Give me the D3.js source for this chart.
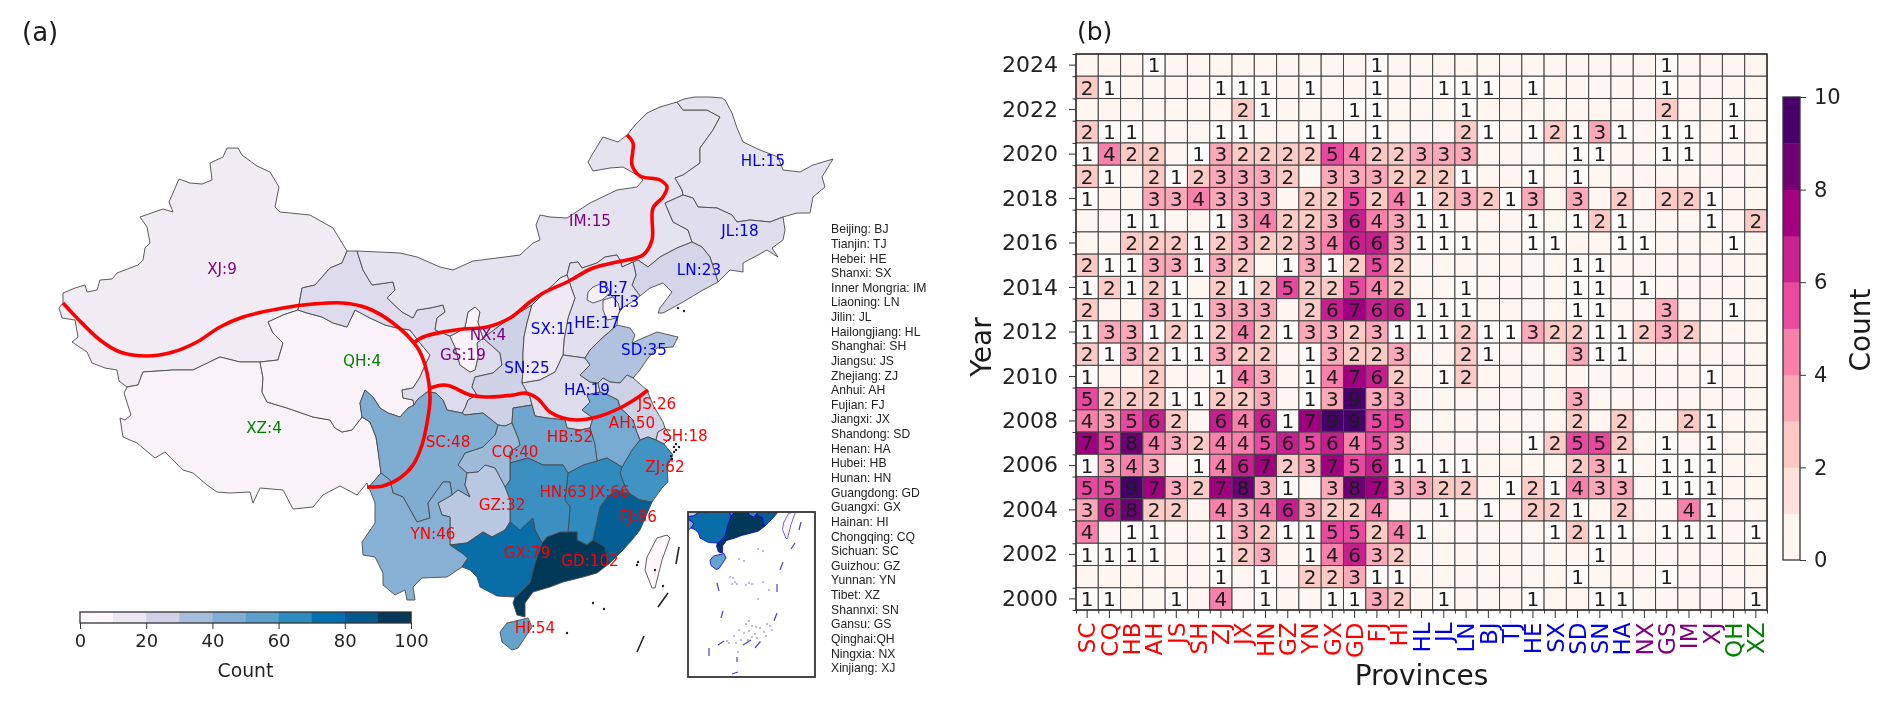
<!DOCTYPE html>
<html>
<head>
<meta charset="utf-8">
<script src="https://cdn.jsdelivr.net/npm/d3@7"></script>
<style>
html, body { margin: 0; padding: 0; background: #fff; }
svg { display: block; font-family: "DejaVu Sans", sans-serif; filter: blur(0.45px); }
.axis path, .axis line { stroke: #333; }
.axis text { fill: #222; }
</style>
</head>
<body>
<svg width="1892" height="707"></svg>
<script>
var provinces = ["SC","CQ","HB","AH","JS","SH","ZJ","JX","HN","GZ","YN","GX","GD","FJ","HI","HL","JL","LN","BJ","TJ","HE","SX","SD","SN","HA","NX","GS","IM","XJ","QH","XZ"];
var provinceCounts = [48,40,52,50,26,18,62,66,63,32,46,79,102,86,54,15,18,23,7,3,17,11,35,25,19,4,19,15,9,4,4];
var regionSizes = [15,10,4,2];
var regionColors = ["#ff0000","#0000e6","#800080","#008000"];

var years = [2024,2023,2022,2021,2020,2019,2018,2017,2016,2015,2014,2013,2012,2011,2010,2009,2008,2007,2006,2005,2004,2003,2002,2001,2000];
var yearTicks = [2024,2022,2020,2018,2016,2014,2012,2010,2008,2006,2004,2002,2000];
var yearCounts = [
	[0,0,0,1,0,0,0,0,0,0,0,0,0,1,0,0,0,0,0,0,0,0,0,0,0,0,1,0,0,0,0],
	[2,1,0,0,0,0,1,1,1,0,1,0,0,1,0,0,1,1,1,0,1,0,0,0,0,0,1,0,0,0,0],
	[0,0,0,0,0,0,0,2,1,0,0,0,1,1,0,0,0,1,0,0,0,0,0,0,0,0,2,0,0,1,0],
	[2,1,1,0,0,0,1,1,0,0,1,1,0,1,0,0,0,2,1,0,1,2,1,3,1,0,1,1,0,1,0],
	[1,4,2,2,0,1,3,2,2,2,2,5,4,2,2,3,3,3,0,0,0,0,1,1,0,0,1,1,0,0,0],
	[2,1,0,2,1,2,3,3,3,2,0,3,3,3,2,2,2,1,0,0,1,0,1,0,0,0,0,0,0,0,0],
	[1,0,0,3,3,4,3,3,3,0,2,2,5,2,4,1,2,3,2,1,3,0,3,0,2,0,2,2,1,0,0],
	[0,0,1,1,0,0,1,3,4,2,2,3,6,4,3,1,1,0,0,0,1,0,1,2,1,0,0,0,1,0,2],
	[0,0,2,2,2,1,2,3,2,2,3,4,6,6,3,1,1,1,0,0,1,1,0,0,1,1,0,0,0,1,0],
	[2,1,1,3,3,1,3,2,0,1,3,1,2,5,2,0,0,0,0,0,0,0,1,1,0,0,0,0,0,0,0],
	[1,2,1,2,1,0,2,1,2,5,2,2,5,4,2,0,0,1,0,0,0,0,1,1,0,1,0,0,0,0,0],
	[2,0,0,3,1,1,3,3,3,0,2,6,7,6,6,1,1,1,0,0,0,0,1,1,0,0,3,0,0,1,0],
	[1,3,3,1,2,1,2,4,2,1,3,3,2,3,1,1,1,2,1,1,3,2,2,1,1,2,3,2,0,0,0],
	[2,1,3,2,1,1,3,2,2,0,1,3,2,2,3,0,0,2,1,0,0,0,3,1,1,0,0,0,0,0,0],
	[1,0,0,2,0,0,1,4,3,0,1,4,7,6,2,0,1,2,0,0,0,0,0,0,0,0,0,0,1,0,0],
	[5,2,2,2,1,1,2,2,3,0,1,3,9,3,3,0,0,0,0,0,0,0,3,0,0,0,0,0,0,0,0],
	[4,3,5,6,2,0,6,4,6,1,7,9,9,5,5,0,0,0,0,0,0,0,2,0,2,0,0,2,1,0,0],
	[7,5,8,4,3,2,4,4,5,6,5,6,4,5,3,0,0,0,0,0,1,2,5,5,2,0,1,0,1,0,0],
	[1,3,4,3,0,1,4,6,7,2,3,7,5,6,1,1,1,1,0,0,0,0,2,3,1,0,1,1,1,0,0],
	[5,5,9,7,3,2,7,8,3,1,0,3,8,7,3,3,2,2,0,1,2,1,4,3,3,0,1,1,1,0,0],
	[3,6,8,2,2,0,4,3,4,6,3,2,2,4,0,0,1,0,1,0,2,2,1,0,2,0,0,4,1,0,0],
	[4,0,1,1,0,0,1,3,2,1,1,5,5,2,4,1,0,0,0,0,0,1,2,1,1,0,1,1,1,0,1],
	[1,1,1,1,0,0,1,2,3,0,1,4,6,3,2,0,0,0,0,0,0,0,0,1,0,0,0,0,0,0,0],
	[0,0,0,0,0,0,1,0,1,0,2,2,3,1,1,0,0,0,0,0,0,0,1,0,0,0,1,0,0,0,0],
	[1,1,0,0,1,0,4,0,1,0,0,1,1,3,2,0,1,0,0,0,1,0,0,1,1,0,0,0,0,0,1]
];

// colours by count, the cells with a 1 come out paler than the colorbar says
var cellColors = ["#fff6f2","#fffbfa","#fccbc6","#fba8b8","#f880ab","#e8489f","#c61f8e","#a0007f","#6e0076","#45006a"];
var heatBarColors = ["#fff5f0","#fee1dd","#fcc8c3","#faa7b6","#f880ab","#ec4a9e","#cc2290","#a3007f","#720075","#49006a"];
var mapBarColors = ["#fff7fb","#ece7f2","#d0d1e6","#a6bddb","#83add4","#5b9fcb","#2b8cbe","#0570b0","#045a8d","#023858"];

var glossary = ["Beijing: BJ","Tianjin: TJ","Hebei: HE","Shanxi: SX","Inner Mongria: IM","Liaoning: LN","Jilin: JL","Hailongjiang: HL","Shanghai: SH","Jiangsu: JS","Zhejiang: ZJ","Anhui: AH","Fujian: FJ","Jiangxi: JX","Shandong: SD","Henan: HA","Hubei: HB","Hunan: HN","Guangdong: GD","Guangxi: GX","Hainan: HI","Chongqing: CQ","Sichuan: SC","Guizhou: GZ","Yunnan: YN","Tibet: XZ","Shannxi: SN","Gansu: GS","Qinghai:QH","Ningxia: NX","Xinjiang: XJ"];

var arcs = {
	xj_outer:"127,387 119,381 117,370 105,368 92,363 87,352 78,346 72,342 78,337 75,320 62,318 59,308 63,303 63,293 75,288 85,285 87,292 97,290 100,280 112,279 117,273 138,265 143,260 145,248 150,243 147,227 140,217 163,209 173,212 169,202 179,179 190,183 202,184 212,180 210,163 223,157 227,148 238,148 242,155 257,166 270,172 279,187 275,207 280,212 310,215 333,228 347,251",
	xj_gs:"347,251 342,263 330,268 315,285 302,288 298,310",
	xj_qh:"298,310 283,315 268,322 273,333 283,343 278,360 260,362",
	xj_xz:"260,362 240,362 220,357 193,370 173,370 143,372 138,385 127,387",
	xz_outer:"127,387 124,393 131,415 125,420 120,418 123,437 137,443 155,458 165,452 183,470 193,473 207,485 217,492 230,493 250,492 253,503 260,488 283,490 293,509 313,507 323,495 340,486 357,495 367,483 368,488",
	xz_yn:"368,488 375,480 381,473",
	xz_sc:"381,473 378,450 376,437 370,422 362,417",
	xz_qh:"362,417 352,430 342,432 335,428 330,420 313,417 287,408 267,402 262,392 263,378 260,362",
	gs_qh:"298,310 307,313 322,317 333,323 347,327 355,310 370,318 385,325 397,328 410,330 420,343 430,355 423,370 420,377 413,388 402,390 403,398 413,400 414,405",
	qh_sc:"362,417 360,403 365,390 373,397 380,408 388,413 400,417 408,408 414,405",
	gs_outer:"347,251 357,251",
	gs_im:"357,251 363,270 372,285 393,282 395,290 387,298 402,312 413,318 417,310 430,308 443,305 445,312 437,318 435,330 450,336",
	gs_nx:"450,336 455,347 460,365 470,372 475,370 478,357 477,343 483,338",
	gs_sn:"483,338 500,353 502,365 493,373 475,377 472,387 477,395 468,400 465,408 462,413",
	gs_sc:"462,413 447,410 443,400 436,393 427,392 417,400 414,405",
	nx_im:"450,336 458,332 465,327 468,312 475,307 480,312 478,322 483,338",
	sn_im:"483,338 487,335 503,323 520,312 532,305",
	sx_sn:"532,305 527,323 524,337 523,353 523,370 522,383",
	ha_sn:"522,383 530,397 532,405",
	hb_sn:"532,405 513,408 512,423",
	cq_sn:"512,423 505,426 498,425",
	sc_sn:"498,425 483,413 465,415 462,413",
	im_outer:"357,251 400,253 417,257 440,267 453,270 473,261 505,257 520,255 533,243 540,240 536,225 540,215 550,217 567,218 590,203 617,190 637,187 643,180 637,175 623,167 610,168 593,171 588,162 593,153 603,137 618,142 627,135 635,125 647,113 660,107 677,102",
	im_hl:"677,102 683,110 707,110 720,117 713,130 700,148 700,163 683,175 675,178 682,190 683,195",
	im_jl:"683,195 665,203 673,222 688,230 692,242",
	im_ln:"692,242 677,248 660,257 648,267 638,260 633,262",
	he_im:"633,262 622,267 620,260 617,255 605,257 597,263 582,268 578,262 570,263 567,275",
	sx_im:"567,275 560,278 553,285 545,292 540,297 532,305",
	hl_outer:"677,102 684,99 695,97 710,97 722,98 725,100 732,113 737,128 743,142 760,150 778,157 783,170 800,172 813,165 833,159 822,177 825,187 813,197 810,213 797,213 783,217",
	hl_jl:"783,217 770,222 750,220 737,222 732,215 717,208 698,207 693,198 683,195",
	jl_outer:"783,217 785,230 783,240 772,248 778,257 767,250 758,255 743,263 743,272 730,270 718,282",
	jl_ln:"718,282 710,257 702,247 692,242",
	ln_coast:"718,282 703,290 683,302 663,313 658,313 660,308 672,292 663,283 650,288 640,296",
	ln_he:"640,296 632,285 636,275 633,262",
	sx_he:"567,275 572,290 575,298 568,318 564,340 563,355",
	ha_he:"563,355 585,358",
	he_sd:"585,358 590,350 600,340 608,333 617,325",
	he_coast:"617,325 618,315 622,308 632,302 640,296",
	sx_ha:"522,383 540,380 555,372 563,355",
	ha_sd:"585,358 590,365 580,375 590,382 598,383",
	ha_js:"598,383 600,392",
	ha_ah:"600,392 587,395 590,402 582,410 593,418 590,428",
	ah_js:"600,392 608,395 618,400 620,408 627,414 633,420 636,430 640,440",
	ha_hb:"590,428 580,430 567,428 565,420 547,418 535,416 532,405",
	sd_coast:"617,325 630,328 635,335 632,343 650,335 657,332 678,337 673,347 657,348 648,358 640,370 633,378",
	sd_js:"633,378 627,375 620,383 610,382 603,378 598,383",
	js_coast:"633,378 647,390 653,405 663,422 665,428",
	js_sh:"665,428 658,432 656,440",
	js_zj:"656,440 648,437 640,440",
	sh_coast:"665,428 671,437 664,444",
	sh_zj:"664,444 656,440",
	zj_coast:"664,444 673,455 667,467 668,482 662,488 652,502",
	zj_fj:"652,502 640,500 630,494",
	zj_jx:"630,494 625,487 620,473 622,467",
	ah_zj:"622,467 632,450 640,440",
	ah_jx:"622,467 607,458 597,461",
	ah_hb:"597,461 595,445 590,428",
	fj_coast:"652,502 640,530 632,540 623,550 610,563",
	fj_gd:"610,563 607,558 605,547 593,540",
	fj_jx:"593,540 600,507 607,497 617,490 630,494",
	jx_hb:"568,473 583,465 597,461",
	jx_gd:"593,540 587,545 577,540 577,532 568,532",
	jx_hn:"568,532 570,507 565,500 568,473",
	gd_coast:"610,563 597,573 583,577 563,582 550,587 533,592 525,603 525,617 517,615 513,603 515,597",
	gd_gx:"515,597 518,595 530,583 535,563 542,543",
	gd_hn:"542,543 547,537 560,532 568,532",
	hb_cq:"512,423 518,438 520,445 510,452 510,463",
	hb_hn:"510,463 528,458 543,465 563,465 568,473",
	cq_hn:"510,463 510,480 505,487",
	gz_hn:"505,487 510,500 510,522",
	gx_hn:"510,522 520,530 533,518 535,530 542,543",
	sc_cq:"498,425 495,435 483,447 465,453 458,465 467,473",
	cq_gz:"467,473 478,472 485,465 495,468 505,487",
	sc_gz:"467,473 465,485 470,497 458,490 452,495",
	sc_yn:"452,495 450,482 443,482 428,503 430,518 417,522 403,497 393,493 390,480 381,473",
	yn_gz:"452,495 438,503 442,515 450,517 450,545",
	gx_gz:"450,545 467,543 483,532 492,537 505,530 510,522",
	yn_gx:"450,545 462,553 468,558 462,567",
	yn_outer:"462,567 447,577 422,578 413,587 415,600 407,600 405,590 395,595 383,585 383,573 375,557 363,555 362,542 375,523 375,503 370,490 368,488",
	gx_coast:"515,597 497,596 480,587 477,577 470,570 462,567",
	hi_ring:"507,623 528,618 532,627 518,648 512,650 502,642 500,632 507,623",
	tw_ring:"667,535 670,538 662,560 655,588 652,588 645,570 647,557 657,538 667,535",
	bj_ring:"593,287 605,282 610,293 602,300 593,303 587,300 588,292 593,287",
	tj_ring:"603,300 613,297 618,303 620,310 617,318 607,320 603,310 603,300"
};

var rings = {
	XJ:["xj_outer","xj_gs","xj_qh","xj_xz"],
	XZ:["xz_outer","xz_yn","xz_sc","xz_qh","xj_xz"],
	QH:["gs_qh","-qh_sc","xz_qh","-xj_qh"],
	GS:["gs_outer","gs_im","gs_nx","gs_sn","gs_sc","-gs_qh","-xj_gs"],
	NX:["nx_im","-gs_nx"],
	SN:["sn_im","sx_sn","ha_sn","hb_sn","cq_sn","sc_sn","-gs_sn"],
	IM:["im_outer","im_hl","im_jl","im_ln","he_im","sx_im","-sn_im","-nx_im","-gs_im"],
	HL:["hl_outer","hl_jl","-im_hl"],
	JL:["jl_outer","jl_ln","-im_jl","-hl_jl"],
	LN:["ln_coast","ln_he","-im_ln","-jl_ln"],
	HE:["he_im","sx_he","ha_he","he_sd","he_coast","ln_he"],
	BJ:["bj_ring"],
	TJ:["tj_ring"],
	SX:["sx_im","sx_sn","sx_ha","-sx_he"],
	HA:["ha_he","ha_sd","ha_js","ha_ah","ha_hb","-ha_sn","sx_ha"],
	SD:["sd_coast","sd_js","-ha_sd","he_sd"],
	JS:["js_coast","js_sh","js_zj","-ah_js","-ha_js","-sd_js"],
	SH:["sh_coast","sh_zj","-js_sh"],
	ZJ:["zj_coast","zj_fj","zj_jx","ah_zj","-js_zj","-sh_zj"],
	AH:["ah_js","-ah_zj","ah_jx","ah_hb","-ha_ah"],
	FJ:["fj_coast","fj_gd","fj_jx","-zj_fj"],
	JX:["jx_hb","-ah_jx","-zj_jx","-fj_jx","jx_gd","jx_hn"],
	GD:["gd_coast","gd_gx","gd_hn","-jx_gd","-fj_gd"],
	HB:["ha_hb","hb_sn","hb_cq","hb_hn","jx_hb","ah_hb"],
	HN:["-hb_hn","cq_hn","gz_hn","gx_hn","gd_hn","jx_hn"],
	CQ:["cq_sn","sc_cq","cq_gz","-cq_hn","-hb_cq"],
	SC:["-gs_sc","-sc_sn","sc_cq","sc_gz","sc_yn","xz_sc","qh_sc"],
	GZ:["cq_gz","gz_hn","-gx_gz","-yn_gz","-sc_gz"],
	YN:["yn_gz","yn_gx","yn_outer","xz_yn","-sc_yn"],
	GX:["gx_gz","gx_hn","-gd_gx","gx_coast","-yn_gx"],
	HI:["hi_ring"]
};

// label spots, same order as provinces
var labelSpots = [[448,442],[515,452],[570,437],[632,423],[657,404],[685,436],[665,467],[610,492],[563,492],[502,505],[433,534],[527,553],[590,561],[638,517],[535,628],[763,161],[740,231],[699,270],[613,288],[625,302],[597,323],[553,329],[644,350],[527,368],[587,390],[488,335],[463,355],[590,221],[222,269],[362,361],[264,428]];

var dividerMain = "63,303 77,318 100,340 120,352 147,356 173,352 197,342 220,327 243,317 283,308 313,304 343,303 367,308 393,323 417,347 425,365 430,397 428,417 422,445 413,465 400,478 383,486 367,487";
var dividerNorth = "627,135 633,143 632,165 640,176 660,180 667,187 663,197 653,208 652,240 643,255 617,262 593,268 567,282 545,292 530,302 510,318 487,327 463,329 443,332 423,337 415,342";
var dividerSouth = "648,390 637,398 620,408 597,417 577,420 563,418 550,412 537,398 525,393 513,395 487,397 470,395 450,386 443,385 430,388";

var seaDashes = ["679,547 676,564","668,593 658,607","644,636 637,652"];
var coastIslands = ["593,603","604,609","567,633","638,562","637,565","676,444","679,447","671,456","672,459","674,447","674,452","676,450","678,308","684,311","655,570","663,586"];
var insetDashes = ["717,583 719,591","723,611 721,618","709,648 709,656","732,674 738,672","737,657 737,662","755,648 760,642","774,621 777,613","777,584 777,592","780,570 783,562","791,549 795,543","799,530 801,522","718,645 724,641","743,645 751,640"];
var insetIslands = ["730,577","733,578","735,582","732,584","737,584","746,585","749,583","752,584","763,582","769,590","758,599","758,549","763,551","739,559","744,561","749,621","746,624","752,626","756,627","749,631","744,633","755,634","760,628","764,632","767,624","770,626","772,630","757,638","752,637","748,640","741,640","736,643","734,636","729,643","727,641","739,630","760,642","766,636","738,652"];

var svg = d3.select("svg");

var pts = function(s) {
	return s.split(" ").map(function(p) { return p.split(",").map(Number); });
};

var ringOf = function(parts) {
	var ring = [];
	parts.forEach(function(name) {
		var rev = name.charAt(0) == "-";
		var line = pts(arcs[rev ? name.slice(1) : name]);
		if(rev) line.reverse();
		ring = ring.concat(ring.length ? line.slice(1) : line);
	});
	return ring;
};

var regionOf = function(i) {
	var sum = 0;
	for(var r = 0; r < regionSizes.length; r++) {
		sum += regionSizes[r];
		if(i < sum) return r;
	}
};

var countByProvince = {};
provinces.forEach(function(p, i) { countByProvince[p] = provinceCounts[i]; });

var mapColor = d3.scaleSequential(d3.interpolatePuBu).domain([0, 102]);

var features = Object.keys(rings).map(function(name) {
	return {type: "Feature", id: name, geometry: {type: "Polygon", coordinates: [ringOf(rings[name])]}};
});
var taiwan = {type: "Polygon", coordinates: [pts(arcs.tw_ring)]};

var mapPath = d3.geoPath(d3.geoIdentity());
var insetPath = d3.geoPath(d3.geoIdentity().scale(0.5).translate([460, 244.5]));
var flatPath = d3.geoPath(d3.geoIdentity());

// panel a
var mapLayer = svg.append("g");
mapLayer.selectAll("path.prov")
	.data(features)
	.enter().append("path")
	.attr("class", "prov")
	.attr("d", mapPath)
	.attr("fill", function(d) { return mapColor(countByProvince[d.id]); })
	.attr("stroke", "#4a4a4a")
	.attr("stroke-width", 0.9)
	.attr("stroke-linejoin", "round");
mapLayer.append("path")
	.attr("d", mapPath(taiwan))
	.attr("fill", "#fff7fb")
	.attr("stroke", "#4a4a4a")
	.attr("stroke-width", 0.9);
mapLayer.append("path")
	.attr("d", mapPath({type: "MultiLineString", coordinates: seaDashes.map(pts)}))
	.attr("fill", "none")
	.attr("stroke", "#222")
	.attr("stroke-width", 1.6);
mapLayer.selectAll("circle")
	.data(coastIslands.map(pts))
	.enter().append("circle")
	.attr("cx", function(d) { return d[0][0]; })
	.attr("cy", function(d) { return d[0][1]; })
	.attr("r", 1.2)
	.attr("fill", "#222");

var dividerLine = d3.line().curve(d3.curveCatmullRom);
svg.append("g").selectAll("path")
	.data([dividerMain, dividerNorth, dividerSouth])
	.enter().append("path")
	.attr("d", function(d) { return dividerLine(pts(d)); })
	.attr("fill", "none")
	.attr("stroke", "#ff0000")
	.attr("stroke-width", 3.6);

svg.append("g").selectAll("text")
	.data(provinces)
	.enter().append("text")
	.attr("x", function(d, i) { return labelSpots[i][0]; })
	.attr("y", function(d, i) { return labelSpots[i][1]; })
	.attr("dy", "0.36em")
	.attr("text-anchor", "middle")
	.attr("font-size", 15.2)
	.attr("fill", function(d, i) { return regionColors[regionOf(i)]; })
	.text(function(d, i) { return d + ":" + provinceCounts[i]; });

// inset, same provinces at half size
var clip = svg.append("clipPath").attr("id", "inset-clip");
clip.append("rect").attr("x", 688).attr("y", 512).attr("width", 127).attr("height", 165);
var inset = svg.append("g").attr("clip-path", "url(#inset-clip)");
inset.selectAll("path.prov")
	.data(features)
	.enter().append("path")
	.attr("class", "prov")
	.attr("d", insetPath)
	.attr("fill", function(d) { return mapColor(countByProvince[d.id]); })
	.attr("stroke", "#0000e0")
	.attr("stroke-width", 0.8);
inset.append("path")
	.attr("d", insetPath(taiwan))
	.attr("fill", "#fff7fb")
	.attr("stroke", "#5a50c0")
	.attr("stroke-width", 0.9);
inset.append("path")
	.attr("d", flatPath({type: "MultiLineString", coordinates: insetDashes.map(pts)}))
	.attr("fill", "none")
	.attr("stroke", "#4a44c8")
	.attr("stroke-width", 1.2);
inset.selectAll("circle")
	.data(insetIslands.map(pts))
	.enter().append("circle")
	.attr("cx", function(d) { return d[0][0]; })
	.attr("cy", function(d) { return d[0][1]; })
	.attr("r", 0.7)
	.attr("fill", "#4a44c8");
svg.append("rect")
	.attr("x", 688).attr("y", 512).attr("width", 127).attr("height", 165)
	.attr("fill", "none")
	.attr("stroke", "#333")
	.attr("stroke-width", 1.8);

svg.append("g").selectAll("text")
	.data(glossary)
	.enter().append("text")
	.attr("x", 831)
	.attr("y", function(d, i) { return 229 + i * 14.63; })
	.attr("dy", "0.35em")
	.attr("font-family", "'Liberation Sans', Arial, sans-serif")
	.attr("font-size", 12.2)
	.attr("fill", "#222")
	.text(function(d) { return d; });

var drawBar = function(colors, x0, y0, w, h, domain, horizontal) {
	var bands = d3.range(colors.length);
	var step = (domain[1] - domain[0]) / colors.length;
	var scale = d3.scaleLinear().domain(domain).range(horizontal ? [x0, x0 + w] : [y0 + h, y0]);
	svg.append("g").selectAll("rect")
		.data(bands)
		.enter().append("rect")
		.attr("fill", function(d) { return colors[d]; })
		.attr("x", function(d) { return horizontal ? scale(domain[0] + d * step) : x0; })
		.attr("y", function(d) { return horizontal ? y0 : scale(domain[0] + (d + 1) * step); })
		.attr("width", function() { return horizontal ? Math.abs(scale(step) - scale(0)) + 0.4 : w; })
		.attr("height", function() { return horizontal ? h : Math.abs(scale(step) - scale(0)) + 0.4; });
	svg.append("rect")
		.attr("x", x0).attr("y", y0).attr("width", w).attr("height", h)
		.attr("fill", "none").attr("stroke", "#333").attr("stroke-width", 1.3);
	return scale;
};

var mapBar = drawBar(mapBarColors, 80, 612, 331, 11, [0, 100], true);
var mapBarAxis = svg.append("g")
	.attr("class", "axis")
	.attr("transform", "translate(0,623)")
	.call(d3.axisBottom(mapBar).tickValues([0,20,40,60,80,100]).tickSize(6).tickPadding(5));
mapBarAxis.select(".domain").remove();
mapBarAxis.selectAll("text").attr("font-size", 18).attr("font-family", "DejaVu Sans");
svg.append("text")
	.attr("x", 245.5).attr("y", 670).attr("dy", "0.36em")
	.attr("text-anchor", "middle").attr("font-size", 18.8).attr("fill", "#222")
	.text("Count");

// panel b
var gridX = [1076, 1767], gridY = [54, 610];
var x = d3.scaleBand().domain(provinces).range(gridX);
var y = d3.scaleBand().domain(years).range(gridY);

var cells = [];
years.forEach(function(year, r) {
	provinces.forEach(function(p, c) {
		cells.push({year: year, province: p, value: yearCounts[r][c]});
	});
});

var cell = svg.append("g").selectAll("g")
	.data(cells)
	.enter().append("g")
	.attr("transform", function(d) { return "translate(" + x(d.province) + "," + y(d.year) + ")"; });
cell.append("rect")
	.attr("width", x.bandwidth())
	.attr("height", y.bandwidth())
	.attr("fill", function(d) { return cellColors[d.value]; })
	.attr("stroke", "#444")
	.attr("stroke-width", 1);
cell.filter(function(d) { return d.value > 0; })
	.append("text")
	.attr("x", x.bandwidth() / 2)
	.attr("y", y.bandwidth() / 2)
	.attr("dy", "0.36em")
	.attr("text-anchor", "middle")
	.attr("font-size", 20)
	.attr("fill", "#1c1c1c")
	.text(function(d) { return d.value; });

svg.append("rect")
	.attr("x", gridX[0]).attr("y", gridY[0])
	.attr("width", gridX[1] - gridX[0]).attr("height", gridY[1] - gridY[0])
	.attr("fill", "none").attr("stroke", "#222").attr("stroke-width", 1.3);

var xAxis = svg.append("g")
	.attr("class", "axis")
	.attr("transform", "translate(0," + gridY[1] + ")")
	.call(d3.axisBottom(x).tickSize(8).tickPadding(0));
xAxis.select(".domain").remove();
xAxis.selectAll("text")
	.attr("transform", "rotate(-90)")
	.attr("x", -12.5)
	.attr("y", 0)
	.attr("dy", "0.36em")
	.attr("text-anchor", "end")
	.attr("font-size", 23)
	.attr("font-family", "DejaVu Sans")
	.style("fill", function(d, i) { return regionColors[regionOf(i)]; });

var yAxis = svg.append("g")
	.attr("class", "axis")
	.attr("transform", "translate(" + gridX[0] + ",0)")
	.call(d3.axisLeft(y).tickValues(yearTicks).tickSize(7).tickPadding(11));
yAxis.select(".domain").remove();
yAxis.selectAll("text").attr("font-size", 22).attr("font-family", "DejaVu Sans");

// short ticks on the cell edges
var xEdges = d3.scaleLinear().domain([0, provinces.length]).range(gridX);
var yEdges = d3.scaleLinear().domain([0, years.length]).range(gridY);
var xMinor = svg.append("g")
	.attr("class", "axis")
	.attr("transform", "translate(0," + gridY[1] + ")")
	.call(d3.axisBottom(xEdges).tickValues(d3.range(provinces.length + 1)).tickSize(3.5).tickFormat(""));
xMinor.select(".domain").remove();
var yMinor = svg.append("g")
	.attr("class", "axis")
	.attr("transform", "translate(" + gridX[0] + ",0)")
	.call(d3.axisLeft(yEdges).tickValues(d3.range(years.length + 1)).tickSize(3.5).tickFormat(""));
yMinor.select(".domain").remove();

var heatBar = drawBar(heatBarColors, 1783, 97, 17, 463, [0, 10], false);
var heatAxis = svg.append("g")
	.attr("class", "axis")
	.attr("transform", "translate(1800,0)")
	.call(d3.axisRight(heatBar).tickValues([0,2,4,6,8,10]).tickSize(6).tickPadding(8));
heatAxis.select(".domain").remove();
heatAxis.selectAll("text").attr("font-size", 21).attr("font-family", "DejaVu Sans");

var titles = [
	{text: "(a)", x: 22, y: 32, size: 26},
	{text: "(b)", x: 1077, y: 31, size: 25}
];
svg.append("g").selectAll("text")
	.data(titles)
	.enter().append("text")
	.attr("x", function(d) { return d.x; })
	.attr("y", function(d) { return d.y; })
	.attr("dy", "0.36em")
	.attr("font-size", function(d) { return d.size; })
	.attr("fill", "#1a1a1a")
	.text(function(d) { return d.text; });

svg.append("text")
	.attr("x", 1421.5).attr("y", 675).attr("dy", "0.36em")
	.attr("text-anchor", "middle").attr("font-size", 28).attr("fill", "#1a1a1a")
	.text("Provinces");
svg.append("text")
	.attr("transform", "translate(981,347) rotate(-90)").attr("dy", "0.36em")
	.attr("text-anchor", "middle").attr("font-size", 28).attr("fill", "#1a1a1a")
	.text("Year");
svg.append("text")
	.attr("transform", "translate(1860,330) rotate(-90)").attr("dy", "0.36em")
	.attr("text-anchor", "middle").attr("font-size", 28).attr("fill", "#1a1a1a")
	.text("Count");
</script>
</body>
</html>
